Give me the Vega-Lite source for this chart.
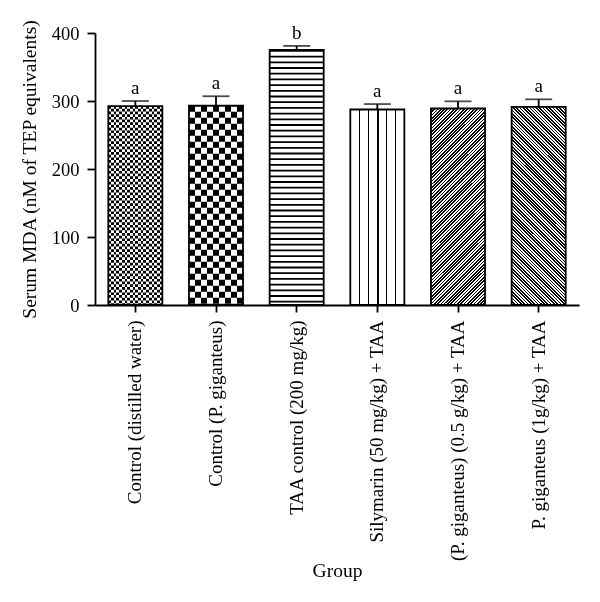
{
  "$schema": "https://vega.github.io/schema/vega-lite/v6.json",
  "autosize": "none",
  "width": 484,
  "height": 272,
  "padding": {"left": 95, "top": 33, "right": 21, "bottom": 297},
  "background": "white",
  "config": {
    "view": {"stroke": null},
    "axis": {"domainColor": "black", "tickColor": "black", "labelColor": "black", "titleColor": "black", "labelFont": "Liberation Serif", "titleFont": "Liberation Serif", "titleFontWeight": "normal", "grid": false, "domainWidth": 1.8, "tickWidth": 1.8}
  },
  "data": {"values": [
    {"group": "Control (distilled water)", "value": 292.5, "upper": 300, "letter": "a"},
    {"group": "Control (P. giganteus)", "value": 293, "upper": 307, "letter": "a"},
    {"group": "TAA control (200 mg/kg)", "value": 375, "upper": 381, "letter": "b"},
    {"group": "Silymarin (50 mg/kg) + TAA", "value": 287.5, "upper": 295.5, "letter": "a"},
    {"group": "(P. giganteus) (0.5 g/kg) + TAA", "value": 289, "upper": 299.5, "letter": "a"},
    {"group": "P. giganteus (1g/kg) + TAA", "value": 291.5, "upper": 302.5, "letter": "a"}
  ]},
  "encoding": {
    "x": {"field": "group", "type": "nominal", "sort": null,
      "scale": {"paddingInner": 0.33, "paddingOuter": 0.165},
      "axis": {"title": "Group", "labelAngle": -90, "labelAlign": "right", "labelBaseline": "middle", "labelFontSize": 19, "labelLimit": 400, "tickSize": 7, "labelPadding": 8, "titleFontSize": 19.5, "titleY": 256, "titleBaseline": "top"}},
    "y": {"field": "value", "type": "quantitative",
      "scale": {"domain": [0, 400]},
      "axis": {"title": "Serum MDA (nM of TEP equivalents)", "values": [0, 100, 200, 300, 400], "tickSize": 8, "labelPadding": 8, "labelFontSize": 18.5, "titleFontSize": 19.5, "titlePadding": 12}}
  },
  "layer": [
    {"mark": {"type": "bar", "fill": "white", "stroke": null}},
    {"transform": [{"filter": "datum.group === 'Control (distilled water)'"}],
     "mark": {"type": "rule", "stroke": "black", "strokeWidth": 54, "strokeDash": [2.7, 2.7]},
     "encoding": {"y2": {"datum": 0}}},
    {"transform": [{"filter": "datum.group === 'Control (P. giganteus)'"}],
     "mark": {"type": "rule", "stroke": "black", "strokeWidth": 54, "strokeDash": [6, 6]},
     "encoding": {"y2": {"datum": 0}}},
    {"transform": [{"filter": "datum.group === 'TAA control (200 mg/kg)'"}],
     "mark": {"type": "rule", "stroke": "black", "strokeWidth": 54, "strokeDash": [1.8, 3.9]},
     "encoding": {"y2": {"datum": 0}}},
    {"transform": [{"filter": "datum.group === 'Control (distilled water)'"}],
     "mark": {"type": "bar", "stroke": null, "blend": "difference", "fill": {"gradient": "linear", "x1": 0, "y1": 0, "x2": 1, "y2": 0, "stops": [
       {"offset": 0, "color": "#000"}, {"offset": 0.05, "color": "#000"}, {"offset": 0.05, "color": "#fff"}, {"offset": 0.1, "color": "#fff"},
       {"offset": 0.1, "color": "#000"}, {"offset": 0.15, "color": "#000"}, {"offset": 0.15, "color": "#fff"}, {"offset": 0.2, "color": "#fff"},
       {"offset": 0.2, "color": "#000"}, {"offset": 0.25, "color": "#000"}, {"offset": 0.25, "color": "#fff"}, {"offset": 0.3, "color": "#fff"},
       {"offset": 0.3, "color": "#000"}, {"offset": 0.35, "color": "#000"}, {"offset": 0.35, "color": "#fff"}, {"offset": 0.4, "color": "#fff"},
       {"offset": 0.4, "color": "#000"}, {"offset": 0.45, "color": "#000"}, {"offset": 0.45, "color": "#fff"}, {"offset": 0.5, "color": "#fff"},
       {"offset": 0.5, "color": "#000"}, {"offset": 0.55, "color": "#000"}, {"offset": 0.55, "color": "#fff"}, {"offset": 0.6, "color": "#fff"},
       {"offset": 0.6, "color": "#000"}, {"offset": 0.65, "color": "#000"}, {"offset": 0.65, "color": "#fff"}, {"offset": 0.7, "color": "#fff"},
       {"offset": 0.7, "color": "#000"}, {"offset": 0.75, "color": "#000"}, {"offset": 0.75, "color": "#fff"}, {"offset": 0.8, "color": "#fff"},
       {"offset": 0.8, "color": "#000"}, {"offset": 0.85, "color": "#000"}, {"offset": 0.85, "color": "#fff"}, {"offset": 0.9, "color": "#fff"},
       {"offset": 0.9, "color": "#000"}, {"offset": 0.95, "color": "#000"}, {"offset": 0.95, "color": "#fff"}, {"offset": 1, "color": "#fff"}
     ]}}},
    {"transform": [{"filter": "datum.group === 'Control (P. giganteus)'"}],
     "mark": {"type": "bar", "stroke": null, "blend": "difference", "fill": {"gradient": "linear", "x1": 0, "y1": 0, "x2": 1, "y2": 0, "stops": [
       {"offset": 0, "color": "#000"}, {"offset": 0.1111, "color": "#000"}, {"offset": 0.1111, "color": "#fff"}, {"offset": 0.2222, "color": "#fff"},
       {"offset": 0.2222, "color": "#000"}, {"offset": 0.3333, "color": "#000"}, {"offset": 0.3333, "color": "#fff"}, {"offset": 0.4444, "color": "#fff"},
       {"offset": 0.4444, "color": "#000"}, {"offset": 0.5556, "color": "#000"}, {"offset": 0.5556, "color": "#fff"}, {"offset": 0.6667, "color": "#fff"},
       {"offset": 0.6667, "color": "#000"}, {"offset": 0.7778, "color": "#000"}, {"offset": 0.7778, "color": "#fff"}, {"offset": 0.8889, "color": "#fff"},
       {"offset": 0.8889, "color": "#000"}, {"offset": 1, "color": "#000"}
     ]}}},
    {"transform": [{"filter": "datum.group === 'Silymarin (50 mg/kg) + TAA'"}],
     "mark": {"type": "bar", "stroke": null, "fill": {"gradient": "linear", "x1": 0, "y1": 0, "x2": 1, "y2": 0, "stops": [
       {"offset": 0, "color": "#fff"}, {"offset": 0.163, "color": "#fff"}, {"offset": 0.163, "color": "#000"}, {"offset": 0.187, "color": "#000"},
       {"offset": 0.187, "color": "#fff"}, {"offset": 0.328, "color": "#fff"}, {"offset": 0.328, "color": "#000"}, {"offset": 0.352, "color": "#000"},
       {"offset": 0.352, "color": "#fff"}, {"offset": 0.498, "color": "#fff"}, {"offset": 0.498, "color": "#000"}, {"offset": 0.522, "color": "#000"},
       {"offset": 0.522, "color": "#fff"}, {"offset": 0.663, "color": "#fff"}, {"offset": 0.663, "color": "#000"}, {"offset": 0.687, "color": "#000"},
       {"offset": 0.687, "color": "#fff"}, {"offset": 0.828, "color": "#fff"}, {"offset": 0.828, "color": "#000"}, {"offset": 0.852, "color": "#000"},
       {"offset": 0.852, "color": "#fff"}, {"offset": 1, "color": "#fff"}
     ]}}},
    {"transform": [{"filter": "datum.group === '(P. giganteus) (0.5 g/kg) + TAA'"}],
     "mark": {"type": "bar", "stroke": null, "fill": {"gradient": "linear", "x1": 0, "y1": 0, "x2": 0.343, "y2": 1.249, "stops": [
       {"offset": 0, "color": "#000"}, {"offset": 0.00625, "color": "#000"}, {"offset": 0.00625, "color": "#fff"}, {"offset": 0.0125, "color": "#fff"},
       {"offset": 0.0125, "color": "#000"}, {"offset": 0.01875, "color": "#000"}, {"offset": 0.01875, "color": "#fff"}, {"offset": 0.025, "color": "#fff"},
       {"offset": 0.025, "color": "#000"}, {"offset": 0.03125, "color": "#000"}, {"offset": 0.03125, "color": "#fff"}, {"offset": 0.0375, "color": "#fff"},
       {"offset": 0.0375, "color": "#000"}, {"offset": 0.04375, "color": "#000"}, {"offset": 0.04375, "color": "#fff"}, {"offset": 0.05, "color": "#fff"},
       {"offset": 0.05, "color": "#000"}, {"offset": 0.05625, "color": "#000"}, {"offset": 0.05625, "color": "#fff"}, {"offset": 0.0625, "color": "#fff"},
       {"offset": 0.0625, "color": "#000"}, {"offset": 0.06875, "color": "#000"}, {"offset": 0.06875, "color": "#fff"}, {"offset": 0.075, "color": "#fff"},
       {"offset": 0.075, "color": "#000"}, {"offset": 0.08125, "color": "#000"}, {"offset": 0.08125, "color": "#fff"}, {"offset": 0.0875, "color": "#fff"},
       {"offset": 0.0875, "color": "#000"}, {"offset": 0.09375, "color": "#000"}, {"offset": 0.09375, "color": "#fff"}, {"offset": 0.1, "color": "#fff"},
       {"offset": 0.1, "color": "#000"}, {"offset": 0.10625, "color": "#000"}, {"offset": 0.10625, "color": "#fff"}, {"offset": 0.1125, "color": "#fff"},
       {"offset": 0.1125, "color": "#000"}, {"offset": 0.11875, "color": "#000"}, {"offset": 0.11875, "color": "#fff"}, {"offset": 0.125, "color": "#fff"},
       {"offset": 0.125, "color": "#000"}, {"offset": 0.13125, "color": "#000"}, {"offset": 0.13125, "color": "#fff"}, {"offset": 0.1375, "color": "#fff"},
       {"offset": 0.1375, "color": "#000"}, {"offset": 0.14375, "color": "#000"}, {"offset": 0.14375, "color": "#fff"}, {"offset": 0.15, "color": "#fff"},
       {"offset": 0.15, "color": "#000"}, {"offset": 0.15625, "color": "#000"}, {"offset": 0.15625, "color": "#fff"}, {"offset": 0.1625, "color": "#fff"},
       {"offset": 0.1625, "color": "#000"}, {"offset": 0.16875, "color": "#000"}, {"offset": 0.16875, "color": "#fff"}, {"offset": 0.175, "color": "#fff"},
       {"offset": 0.175, "color": "#000"}, {"offset": 0.18125, "color": "#000"}, {"offset": 0.18125, "color": "#fff"}, {"offset": 0.1875, "color": "#fff"},
       {"offset": 0.1875, "color": "#000"}, {"offset": 0.19375, "color": "#000"}, {"offset": 0.19375, "color": "#fff"}, {"offset": 0.2, "color": "#fff"},
       {"offset": 0.2, "color": "#000"}, {"offset": 0.20625, "color": "#000"}, {"offset": 0.20625, "color": "#fff"}, {"offset": 0.2125, "color": "#fff"},
       {"offset": 0.2125, "color": "#000"}, {"offset": 0.21875, "color": "#000"}, {"offset": 0.21875, "color": "#fff"}, {"offset": 0.225, "color": "#fff"},
       {"offset": 0.225, "color": "#000"}, {"offset": 0.23125, "color": "#000"}, {"offset": 0.23125, "color": "#fff"}, {"offset": 0.2375, "color": "#fff"},
       {"offset": 0.2375, "color": "#000"}, {"offset": 0.24375, "color": "#000"}, {"offset": 0.24375, "color": "#fff"}, {"offset": 0.25, "color": "#fff"},
       {"offset": 0.25, "color": "#000"}, {"offset": 0.25625, "color": "#000"}, {"offset": 0.25625, "color": "#fff"}, {"offset": 0.2625, "color": "#fff"},
       {"offset": 0.2625, "color": "#000"}, {"offset": 0.26875, "color": "#000"}, {"offset": 0.26875, "color": "#fff"}, {"offset": 0.275, "color": "#fff"},
       {"offset": 0.275, "color": "#000"}, {"offset": 0.28125, "color": "#000"}, {"offset": 0.28125, "color": "#fff"}, {"offset": 0.2875, "color": "#fff"},
       {"offset": 0.2875, "color": "#000"}, {"offset": 0.29375, "color": "#000"}, {"offset": 0.29375, "color": "#fff"}, {"offset": 0.3, "color": "#fff"},
       {"offset": 0.3, "color": "#000"}, {"offset": 0.30625, "color": "#000"}, {"offset": 0.30625, "color": "#fff"}, {"offset": 0.3125, "color": "#fff"},
       {"offset": 0.3125, "color": "#000"}, {"offset": 0.31875, "color": "#000"}, {"offset": 0.31875, "color": "#fff"}, {"offset": 0.325, "color": "#fff"},
       {"offset": 0.325, "color": "#000"}, {"offset": 0.33125, "color": "#000"}, {"offset": 0.33125, "color": "#fff"}, {"offset": 0.3375, "color": "#fff"},
       {"offset": 0.3375, "color": "#000"}, {"offset": 0.34375, "color": "#000"}, {"offset": 0.34375, "color": "#fff"}, {"offset": 0.35, "color": "#fff"},
       {"offset": 0.35, "color": "#000"}, {"offset": 0.35625, "color": "#000"}, {"offset": 0.35625, "color": "#fff"}, {"offset": 0.3625, "color": "#fff"},
       {"offset": 0.3625, "color": "#000"}, {"offset": 0.36875, "color": "#000"}, {"offset": 0.36875, "color": "#fff"}, {"offset": 0.375, "color": "#fff"},
       {"offset": 0.375, "color": "#000"}, {"offset": 0.38125, "color": "#000"}, {"offset": 0.38125, "color": "#fff"}, {"offset": 0.3875, "color": "#fff"},
       {"offset": 0.3875, "color": "#000"}, {"offset": 0.39375, "color": "#000"}, {"offset": 0.39375, "color": "#fff"}, {"offset": 0.4, "color": "#fff"},
       {"offset": 0.4, "color": "#000"}, {"offset": 0.40625, "color": "#000"}, {"offset": 0.40625, "color": "#fff"}, {"offset": 0.4125, "color": "#fff"},
       {"offset": 0.4125, "color": "#000"}, {"offset": 0.41875, "color": "#000"}, {"offset": 0.41875, "color": "#fff"}, {"offset": 0.425, "color": "#fff"},
       {"offset": 0.425, "color": "#000"}, {"offset": 0.43125, "color": "#000"}, {"offset": 0.43125, "color": "#fff"}, {"offset": 0.4375, "color": "#fff"},
       {"offset": 0.4375, "color": "#000"}, {"offset": 0.44375, "color": "#000"}, {"offset": 0.44375, "color": "#fff"}, {"offset": 0.45, "color": "#fff"},
       {"offset": 0.45, "color": "#000"}, {"offset": 0.45625, "color": "#000"}, {"offset": 0.45625, "color": "#fff"}, {"offset": 0.4625, "color": "#fff"},
       {"offset": 0.4625, "color": "#000"}, {"offset": 0.46875, "color": "#000"}, {"offset": 0.46875, "color": "#fff"}, {"offset": 0.475, "color": "#fff"},
       {"offset": 0.475, "color": "#000"}, {"offset": 0.48125, "color": "#000"}, {"offset": 0.48125, "color": "#fff"}, {"offset": 0.4875, "color": "#fff"},
       {"offset": 0.4875, "color": "#000"}, {"offset": 0.49375, "color": "#000"}, {"offset": 0.49375, "color": "#fff"}, {"offset": 0.5, "color": "#fff"},
       {"offset": 0.5, "color": "#000"}, {"offset": 0.50625, "color": "#000"}, {"offset": 0.50625, "color": "#fff"}, {"offset": 0.5125, "color": "#fff"},
       {"offset": 0.5125, "color": "#000"}, {"offset": 0.51875, "color": "#000"}, {"offset": 0.51875, "color": "#fff"}, {"offset": 0.525, "color": "#fff"},
       {"offset": 0.525, "color": "#000"}, {"offset": 0.53125, "color": "#000"}, {"offset": 0.53125, "color": "#fff"}, {"offset": 0.5375, "color": "#fff"},
       {"offset": 0.5375, "color": "#000"}, {"offset": 0.54375, "color": "#000"}, {"offset": 0.54375, "color": "#fff"}, {"offset": 0.55, "color": "#fff"},
       {"offset": 0.55, "color": "#000"}, {"offset": 0.55625, "color": "#000"}, {"offset": 0.55625, "color": "#fff"}, {"offset": 0.5625, "color": "#fff"},
       {"offset": 0.5625, "color": "#000"}, {"offset": 0.56875, "color": "#000"}, {"offset": 0.56875, "color": "#fff"}, {"offset": 0.575, "color": "#fff"},
       {"offset": 0.575, "color": "#000"}, {"offset": 0.58125, "color": "#000"}, {"offset": 0.58125, "color": "#fff"}, {"offset": 0.5875, "color": "#fff"},
       {"offset": 0.5875, "color": "#000"}, {"offset": 0.59375, "color": "#000"}, {"offset": 0.59375, "color": "#fff"}, {"offset": 0.6, "color": "#fff"},
       {"offset": 0.6, "color": "#000"}, {"offset": 0.60625, "color": "#000"}, {"offset": 0.60625, "color": "#fff"}, {"offset": 0.6125, "color": "#fff"},
       {"offset": 0.6125, "color": "#000"}, {"offset": 0.61875, "color": "#000"}, {"offset": 0.61875, "color": "#fff"}, {"offset": 0.625, "color": "#fff"},
       {"offset": 0.625, "color": "#000"}, {"offset": 0.63125, "color": "#000"}, {"offset": 0.63125, "color": "#fff"}, {"offset": 0.6375, "color": "#fff"},
       {"offset": 0.6375, "color": "#000"}, {"offset": 0.64375, "color": "#000"}, {"offset": 0.64375, "color": "#fff"}, {"offset": 0.65, "color": "#fff"},
       {"offset": 0.65, "color": "#000"}, {"offset": 0.65625, "color": "#000"}, {"offset": 0.65625, "color": "#fff"}, {"offset": 0.6625, "color": "#fff"},
       {"offset": 0.6625, "color": "#000"}, {"offset": 0.66875, "color": "#000"}, {"offset": 0.66875, "color": "#fff"}, {"offset": 0.675, "color": "#fff"},
       {"offset": 0.675, "color": "#000"}, {"offset": 0.68125, "color": "#000"}, {"offset": 0.68125, "color": "#fff"}, {"offset": 0.6875, "color": "#fff"},
       {"offset": 0.6875, "color": "#000"}, {"offset": 0.69375, "color": "#000"}, {"offset": 0.69375, "color": "#fff"}, {"offset": 0.7, "color": "#fff"},
       {"offset": 0.7, "color": "#000"}, {"offset": 0.70625, "color": "#000"}, {"offset": 0.70625, "color": "#fff"}, {"offset": 0.7125, "color": "#fff"},
       {"offset": 0.7125, "color": "#000"}, {"offset": 0.71875, "color": "#000"}, {"offset": 0.71875, "color": "#fff"}, {"offset": 0.725, "color": "#fff"},
       {"offset": 0.725, "color": "#000"}, {"offset": 0.73125, "color": "#000"}, {"offset": 0.73125, "color": "#fff"}, {"offset": 0.7375, "color": "#fff"},
       {"offset": 0.7375, "color": "#000"}, {"offset": 0.74375, "color": "#000"}, {"offset": 0.74375, "color": "#fff"}, {"offset": 0.75, "color": "#fff"},
       {"offset": 0.75, "color": "#000"}, {"offset": 0.75625, "color": "#000"}, {"offset": 0.75625, "color": "#fff"}, {"offset": 0.7625, "color": "#fff"},
       {"offset": 0.7625, "color": "#000"}, {"offset": 0.76875, "color": "#000"}, {"offset": 0.76875, "color": "#fff"}, {"offset": 0.775, "color": "#fff"},
       {"offset": 0.775, "color": "#000"}, {"offset": 0.78125, "color": "#000"}, {"offset": 0.78125, "color": "#fff"}, {"offset": 0.7875, "color": "#fff"},
       {"offset": 0.7875, "color": "#000"}, {"offset": 0.79375, "color": "#000"}, {"offset": 0.79375, "color": "#fff"}, {"offset": 0.8, "color": "#fff"},
       {"offset": 0.8, "color": "#000"}, {"offset": 0.80625, "color": "#000"}, {"offset": 0.80625, "color": "#fff"}, {"offset": 0.8125, "color": "#fff"},
       {"offset": 0.8125, "color": "#000"}, {"offset": 0.81875, "color": "#000"}, {"offset": 0.81875, "color": "#fff"}, {"offset": 0.825, "color": "#fff"},
       {"offset": 0.825, "color": "#000"}, {"offset": 0.83125, "color": "#000"}, {"offset": 0.83125, "color": "#fff"}, {"offset": 0.8375, "color": "#fff"},
       {"offset": 0.8375, "color": "#000"}, {"offset": 0.84375, "color": "#000"}, {"offset": 0.84375, "color": "#fff"}, {"offset": 0.85, "color": "#fff"},
       {"offset": 0.85, "color": "#000"}, {"offset": 0.85625, "color": "#000"}, {"offset": 0.85625, "color": "#fff"}, {"offset": 0.8625, "color": "#fff"},
       {"offset": 0.8625, "color": "#000"}, {"offset": 0.86875, "color": "#000"}, {"offset": 0.86875, "color": "#fff"}, {"offset": 0.875, "color": "#fff"},
       {"offset": 0.875, "color": "#000"}, {"offset": 0.88125, "color": "#000"}, {"offset": 0.88125, "color": "#fff"}, {"offset": 0.8875, "color": "#fff"},
       {"offset": 0.8875, "color": "#000"}, {"offset": 0.89375, "color": "#000"}, {"offset": 0.89375, "color": "#fff"}, {"offset": 0.9, "color": "#fff"},
       {"offset": 0.9, "color": "#000"}, {"offset": 0.90625, "color": "#000"}, {"offset": 0.90625, "color": "#fff"}, {"offset": 0.9125, "color": "#fff"},
       {"offset": 0.9125, "color": "#000"}, {"offset": 0.91875, "color": "#000"}, {"offset": 0.91875, "color": "#fff"}, {"offset": 0.925, "color": "#fff"},
       {"offset": 0.925, "color": "#000"}, {"offset": 0.93125, "color": "#000"}, {"offset": 0.93125, "color": "#fff"}, {"offset": 0.9375, "color": "#fff"},
       {"offset": 0.9375, "color": "#000"}, {"offset": 0.94375, "color": "#000"}, {"offset": 0.94375, "color": "#fff"}, {"offset": 0.95, "color": "#fff"},
       {"offset": 0.95, "color": "#000"}, {"offset": 0.95625, "color": "#000"}, {"offset": 0.95625, "color": "#fff"}, {"offset": 0.9625, "color": "#fff"},
       {"offset": 0.9625, "color": "#000"}, {"offset": 0.96875, "color": "#000"}, {"offset": 0.96875, "color": "#fff"}, {"offset": 0.975, "color": "#fff"},
       {"offset": 0.975, "color": "#000"}, {"offset": 0.98125, "color": "#000"}, {"offset": 0.98125, "color": "#fff"}, {"offset": 0.9875, "color": "#fff"},
       {"offset": 0.9875, "color": "#000"}, {"offset": 0.99375, "color": "#000"}, {"offset": 0.99375, "color": "#fff"}, {"offset": 1, "color": "#fff"}
     ]}}},
    {"transform": [{"filter": "datum.group === 'P. giganteus (1g/kg) + TAA'"}],
     "mark": {"type": "bar", "stroke": null, "fill": {"gradient": "linear", "x1": 0, "y1": 1, "x2": 0.3375, "y2": -0.239, "stops": [
       {"offset": 0, "color": "#000"}, {"offset": 0.00625, "color": "#000"}, {"offset": 0.00625, "color": "#fff"}, {"offset": 0.0125, "color": "#fff"},
       {"offset": 0.0125, "color": "#000"}, {"offset": 0.01875, "color": "#000"}, {"offset": 0.01875, "color": "#fff"}, {"offset": 0.025, "color": "#fff"},
       {"offset": 0.025, "color": "#000"}, {"offset": 0.03125, "color": "#000"}, {"offset": 0.03125, "color": "#fff"}, {"offset": 0.0375, "color": "#fff"},
       {"offset": 0.0375, "color": "#000"}, {"offset": 0.04375, "color": "#000"}, {"offset": 0.04375, "color": "#fff"}, {"offset": 0.05, "color": "#fff"},
       {"offset": 0.05, "color": "#000"}, {"offset": 0.05625, "color": "#000"}, {"offset": 0.05625, "color": "#fff"}, {"offset": 0.0625, "color": "#fff"},
       {"offset": 0.0625, "color": "#000"}, {"offset": 0.06875, "color": "#000"}, {"offset": 0.06875, "color": "#fff"}, {"offset": 0.075, "color": "#fff"},
       {"offset": 0.075, "color": "#000"}, {"offset": 0.08125, "color": "#000"}, {"offset": 0.08125, "color": "#fff"}, {"offset": 0.0875, "color": "#fff"},
       {"offset": 0.0875, "color": "#000"}, {"offset": 0.09375, "color": "#000"}, {"offset": 0.09375, "color": "#fff"}, {"offset": 0.1, "color": "#fff"},
       {"offset": 0.1, "color": "#000"}, {"offset": 0.10625, "color": "#000"}, {"offset": 0.10625, "color": "#fff"}, {"offset": 0.1125, "color": "#fff"},
       {"offset": 0.1125, "color": "#000"}, {"offset": 0.11875, "color": "#000"}, {"offset": 0.11875, "color": "#fff"}, {"offset": 0.125, "color": "#fff"},
       {"offset": 0.125, "color": "#000"}, {"offset": 0.13125, "color": "#000"}, {"offset": 0.13125, "color": "#fff"}, {"offset": 0.1375, "color": "#fff"},
       {"offset": 0.1375, "color": "#000"}, {"offset": 0.14375, "color": "#000"}, {"offset": 0.14375, "color": "#fff"}, {"offset": 0.15, "color": "#fff"},
       {"offset": 0.15, "color": "#000"}, {"offset": 0.15625, "color": "#000"}, {"offset": 0.15625, "color": "#fff"}, {"offset": 0.1625, "color": "#fff"},
       {"offset": 0.1625, "color": "#000"}, {"offset": 0.16875, "color": "#000"}, {"offset": 0.16875, "color": "#fff"}, {"offset": 0.175, "color": "#fff"},
       {"offset": 0.175, "color": "#000"}, {"offset": 0.18125, "color": "#000"}, {"offset": 0.18125, "color": "#fff"}, {"offset": 0.1875, "color": "#fff"},
       {"offset": 0.1875, "color": "#000"}, {"offset": 0.19375, "color": "#000"}, {"offset": 0.19375, "color": "#fff"}, {"offset": 0.2, "color": "#fff"},
       {"offset": 0.2, "color": "#000"}, {"offset": 0.20625, "color": "#000"}, {"offset": 0.20625, "color": "#fff"}, {"offset": 0.2125, "color": "#fff"},
       {"offset": 0.2125, "color": "#000"}, {"offset": 0.21875, "color": "#000"}, {"offset": 0.21875, "color": "#fff"}, {"offset": 0.225, "color": "#fff"},
       {"offset": 0.225, "color": "#000"}, {"offset": 0.23125, "color": "#000"}, {"offset": 0.23125, "color": "#fff"}, {"offset": 0.2375, "color": "#fff"},
       {"offset": 0.2375, "color": "#000"}, {"offset": 0.24375, "color": "#000"}, {"offset": 0.24375, "color": "#fff"}, {"offset": 0.25, "color": "#fff"},
       {"offset": 0.25, "color": "#000"}, {"offset": 0.25625, "color": "#000"}, {"offset": 0.25625, "color": "#fff"}, {"offset": 0.2625, "color": "#fff"},
       {"offset": 0.2625, "color": "#000"}, {"offset": 0.26875, "color": "#000"}, {"offset": 0.26875, "color": "#fff"}, {"offset": 0.275, "color": "#fff"},
       {"offset": 0.275, "color": "#000"}, {"offset": 0.28125, "color": "#000"}, {"offset": 0.28125, "color": "#fff"}, {"offset": 0.2875, "color": "#fff"},
       {"offset": 0.2875, "color": "#000"}, {"offset": 0.29375, "color": "#000"}, {"offset": 0.29375, "color": "#fff"}, {"offset": 0.3, "color": "#fff"},
       {"offset": 0.3, "color": "#000"}, {"offset": 0.30625, "color": "#000"}, {"offset": 0.30625, "color": "#fff"}, {"offset": 0.3125, "color": "#fff"},
       {"offset": 0.3125, "color": "#000"}, {"offset": 0.31875, "color": "#000"}, {"offset": 0.31875, "color": "#fff"}, {"offset": 0.325, "color": "#fff"},
       {"offset": 0.325, "color": "#000"}, {"offset": 0.33125, "color": "#000"}, {"offset": 0.33125, "color": "#fff"}, {"offset": 0.3375, "color": "#fff"},
       {"offset": 0.3375, "color": "#000"}, {"offset": 0.34375, "color": "#000"}, {"offset": 0.34375, "color": "#fff"}, {"offset": 0.35, "color": "#fff"},
       {"offset": 0.35, "color": "#000"}, {"offset": 0.35625, "color": "#000"}, {"offset": 0.35625, "color": "#fff"}, {"offset": 0.3625, "color": "#fff"},
       {"offset": 0.3625, "color": "#000"}, {"offset": 0.36875, "color": "#000"}, {"offset": 0.36875, "color": "#fff"}, {"offset": 0.375, "color": "#fff"},
       {"offset": 0.375, "color": "#000"}, {"offset": 0.38125, "color": "#000"}, {"offset": 0.38125, "color": "#fff"}, {"offset": 0.3875, "color": "#fff"},
       {"offset": 0.3875, "color": "#000"}, {"offset": 0.39375, "color": "#000"}, {"offset": 0.39375, "color": "#fff"}, {"offset": 0.4, "color": "#fff"},
       {"offset": 0.4, "color": "#000"}, {"offset": 0.40625, "color": "#000"}, {"offset": 0.40625, "color": "#fff"}, {"offset": 0.4125, "color": "#fff"},
       {"offset": 0.4125, "color": "#000"}, {"offset": 0.41875, "color": "#000"}, {"offset": 0.41875, "color": "#fff"}, {"offset": 0.425, "color": "#fff"},
       {"offset": 0.425, "color": "#000"}, {"offset": 0.43125, "color": "#000"}, {"offset": 0.43125, "color": "#fff"}, {"offset": 0.4375, "color": "#fff"},
       {"offset": 0.4375, "color": "#000"}, {"offset": 0.44375, "color": "#000"}, {"offset": 0.44375, "color": "#fff"}, {"offset": 0.45, "color": "#fff"},
       {"offset": 0.45, "color": "#000"}, {"offset": 0.45625, "color": "#000"}, {"offset": 0.45625, "color": "#fff"}, {"offset": 0.4625, "color": "#fff"},
       {"offset": 0.4625, "color": "#000"}, {"offset": 0.46875, "color": "#000"}, {"offset": 0.46875, "color": "#fff"}, {"offset": 0.475, "color": "#fff"},
       {"offset": 0.475, "color": "#000"}, {"offset": 0.48125, "color": "#000"}, {"offset": 0.48125, "color": "#fff"}, {"offset": 0.4875, "color": "#fff"},
       {"offset": 0.4875, "color": "#000"}, {"offset": 0.49375, "color": "#000"}, {"offset": 0.49375, "color": "#fff"}, {"offset": 0.5, "color": "#fff"},
       {"offset": 0.5, "color": "#000"}, {"offset": 0.50625, "color": "#000"}, {"offset": 0.50625, "color": "#fff"}, {"offset": 0.5125, "color": "#fff"},
       {"offset": 0.5125, "color": "#000"}, {"offset": 0.51875, "color": "#000"}, {"offset": 0.51875, "color": "#fff"}, {"offset": 0.525, "color": "#fff"},
       {"offset": 0.525, "color": "#000"}, {"offset": 0.53125, "color": "#000"}, {"offset": 0.53125, "color": "#fff"}, {"offset": 0.5375, "color": "#fff"},
       {"offset": 0.5375, "color": "#000"}, {"offset": 0.54375, "color": "#000"}, {"offset": 0.54375, "color": "#fff"}, {"offset": 0.55, "color": "#fff"},
       {"offset": 0.55, "color": "#000"}, {"offset": 0.55625, "color": "#000"}, {"offset": 0.55625, "color": "#fff"}, {"offset": 0.5625, "color": "#fff"},
       {"offset": 0.5625, "color": "#000"}, {"offset": 0.56875, "color": "#000"}, {"offset": 0.56875, "color": "#fff"}, {"offset": 0.575, "color": "#fff"},
       {"offset": 0.575, "color": "#000"}, {"offset": 0.58125, "color": "#000"}, {"offset": 0.58125, "color": "#fff"}, {"offset": 0.5875, "color": "#fff"},
       {"offset": 0.5875, "color": "#000"}, {"offset": 0.59375, "color": "#000"}, {"offset": 0.59375, "color": "#fff"}, {"offset": 0.6, "color": "#fff"},
       {"offset": 0.6, "color": "#000"}, {"offset": 0.60625, "color": "#000"}, {"offset": 0.60625, "color": "#fff"}, {"offset": 0.6125, "color": "#fff"},
       {"offset": 0.6125, "color": "#000"}, {"offset": 0.61875, "color": "#000"}, {"offset": 0.61875, "color": "#fff"}, {"offset": 0.625, "color": "#fff"},
       {"offset": 0.625, "color": "#000"}, {"offset": 0.63125, "color": "#000"}, {"offset": 0.63125, "color": "#fff"}, {"offset": 0.6375, "color": "#fff"},
       {"offset": 0.6375, "color": "#000"}, {"offset": 0.64375, "color": "#000"}, {"offset": 0.64375, "color": "#fff"}, {"offset": 0.65, "color": "#fff"},
       {"offset": 0.65, "color": "#000"}, {"offset": 0.65625, "color": "#000"}, {"offset": 0.65625, "color": "#fff"}, {"offset": 0.6625, "color": "#fff"},
       {"offset": 0.6625, "color": "#000"}, {"offset": 0.66875, "color": "#000"}, {"offset": 0.66875, "color": "#fff"}, {"offset": 0.675, "color": "#fff"},
       {"offset": 0.675, "color": "#000"}, {"offset": 0.68125, "color": "#000"}, {"offset": 0.68125, "color": "#fff"}, {"offset": 0.6875, "color": "#fff"},
       {"offset": 0.6875, "color": "#000"}, {"offset": 0.69375, "color": "#000"}, {"offset": 0.69375, "color": "#fff"}, {"offset": 0.7, "color": "#fff"},
       {"offset": 0.7, "color": "#000"}, {"offset": 0.70625, "color": "#000"}, {"offset": 0.70625, "color": "#fff"}, {"offset": 0.7125, "color": "#fff"},
       {"offset": 0.7125, "color": "#000"}, {"offset": 0.71875, "color": "#000"}, {"offset": 0.71875, "color": "#fff"}, {"offset": 0.725, "color": "#fff"},
       {"offset": 0.725, "color": "#000"}, {"offset": 0.73125, "color": "#000"}, {"offset": 0.73125, "color": "#fff"}, {"offset": 0.7375, "color": "#fff"},
       {"offset": 0.7375, "color": "#000"}, {"offset": 0.74375, "color": "#000"}, {"offset": 0.74375, "color": "#fff"}, {"offset": 0.75, "color": "#fff"},
       {"offset": 0.75, "color": "#000"}, {"offset": 0.75625, "color": "#000"}, {"offset": 0.75625, "color": "#fff"}, {"offset": 0.7625, "color": "#fff"},
       {"offset": 0.7625, "color": "#000"}, {"offset": 0.76875, "color": "#000"}, {"offset": 0.76875, "color": "#fff"}, {"offset": 0.775, "color": "#fff"},
       {"offset": 0.775, "color": "#000"}, {"offset": 0.78125, "color": "#000"}, {"offset": 0.78125, "color": "#fff"}, {"offset": 0.7875, "color": "#fff"},
       {"offset": 0.7875, "color": "#000"}, {"offset": 0.79375, "color": "#000"}, {"offset": 0.79375, "color": "#fff"}, {"offset": 0.8, "color": "#fff"},
       {"offset": 0.8, "color": "#000"}, {"offset": 0.80625, "color": "#000"}, {"offset": 0.80625, "color": "#fff"}, {"offset": 0.8125, "color": "#fff"},
       {"offset": 0.8125, "color": "#000"}, {"offset": 0.81875, "color": "#000"}, {"offset": 0.81875, "color": "#fff"}, {"offset": 0.825, "color": "#fff"},
       {"offset": 0.825, "color": "#000"}, {"offset": 0.83125, "color": "#000"}, {"offset": 0.83125, "color": "#fff"}, {"offset": 0.8375, "color": "#fff"},
       {"offset": 0.8375, "color": "#000"}, {"offset": 0.84375, "color": "#000"}, {"offset": 0.84375, "color": "#fff"}, {"offset": 0.85, "color": "#fff"},
       {"offset": 0.85, "color": "#000"}, {"offset": 0.85625, "color": "#000"}, {"offset": 0.85625, "color": "#fff"}, {"offset": 0.8625, "color": "#fff"},
       {"offset": 0.8625, "color": "#000"}, {"offset": 0.86875, "color": "#000"}, {"offset": 0.86875, "color": "#fff"}, {"offset": 0.875, "color": "#fff"},
       {"offset": 0.875, "color": "#000"}, {"offset": 0.88125, "color": "#000"}, {"offset": 0.88125, "color": "#fff"}, {"offset": 0.8875, "color": "#fff"},
       {"offset": 0.8875, "color": "#000"}, {"offset": 0.89375, "color": "#000"}, {"offset": 0.89375, "color": "#fff"}, {"offset": 0.9, "color": "#fff"},
       {"offset": 0.9, "color": "#000"}, {"offset": 0.90625, "color": "#000"}, {"offset": 0.90625, "color": "#fff"}, {"offset": 0.9125, "color": "#fff"},
       {"offset": 0.9125, "color": "#000"}, {"offset": 0.91875, "color": "#000"}, {"offset": 0.91875, "color": "#fff"}, {"offset": 0.925, "color": "#fff"},
       {"offset": 0.925, "color": "#000"}, {"offset": 0.93125, "color": "#000"}, {"offset": 0.93125, "color": "#fff"}, {"offset": 0.9375, "color": "#fff"},
       {"offset": 0.9375, "color": "#000"}, {"offset": 0.94375, "color": "#000"}, {"offset": 0.94375, "color": "#fff"}, {"offset": 0.95, "color": "#fff"},
       {"offset": 0.95, "color": "#000"}, {"offset": 0.95625, "color": "#000"}, {"offset": 0.95625, "color": "#fff"}, {"offset": 0.9625, "color": "#fff"},
       {"offset": 0.9625, "color": "#000"}, {"offset": 0.96875, "color": "#000"}, {"offset": 0.96875, "color": "#fff"}, {"offset": 0.975, "color": "#fff"},
       {"offset": 0.975, "color": "#000"}, {"offset": 0.98125, "color": "#000"}, {"offset": 0.98125, "color": "#fff"}, {"offset": 0.9875, "color": "#fff"},
       {"offset": 0.9875, "color": "#000"}, {"offset": 0.99375, "color": "#000"}, {"offset": 0.99375, "color": "#fff"}, {"offset": 1, "color": "#fff"}
     ]}}},
    {"mark": {"type": "bar", "fillOpacity": 0, "stroke": "black", "strokeWidth": 1.8}},
    {"mark": {"type": "rule", "stroke": "black", "strokeWidth": 1.8}, "encoding": {"y2": {"field": "upper"}}},
    {"mark": {"type": "tick", "color": "black", "size": 27, "thickness": 1.8}, "encoding": {"y": {"field": "upper", "type": "quantitative"}}},
    {"mark": {"type": "text", "font": "Liberation Serif", "fontSize": 19, "color": "black", "baseline": "alphabetic", "dy": -7}, "encoding": {"y": {"field": "upper", "type": "quantitative"}, "text": {"field": "letter"}}}
  ]
}
